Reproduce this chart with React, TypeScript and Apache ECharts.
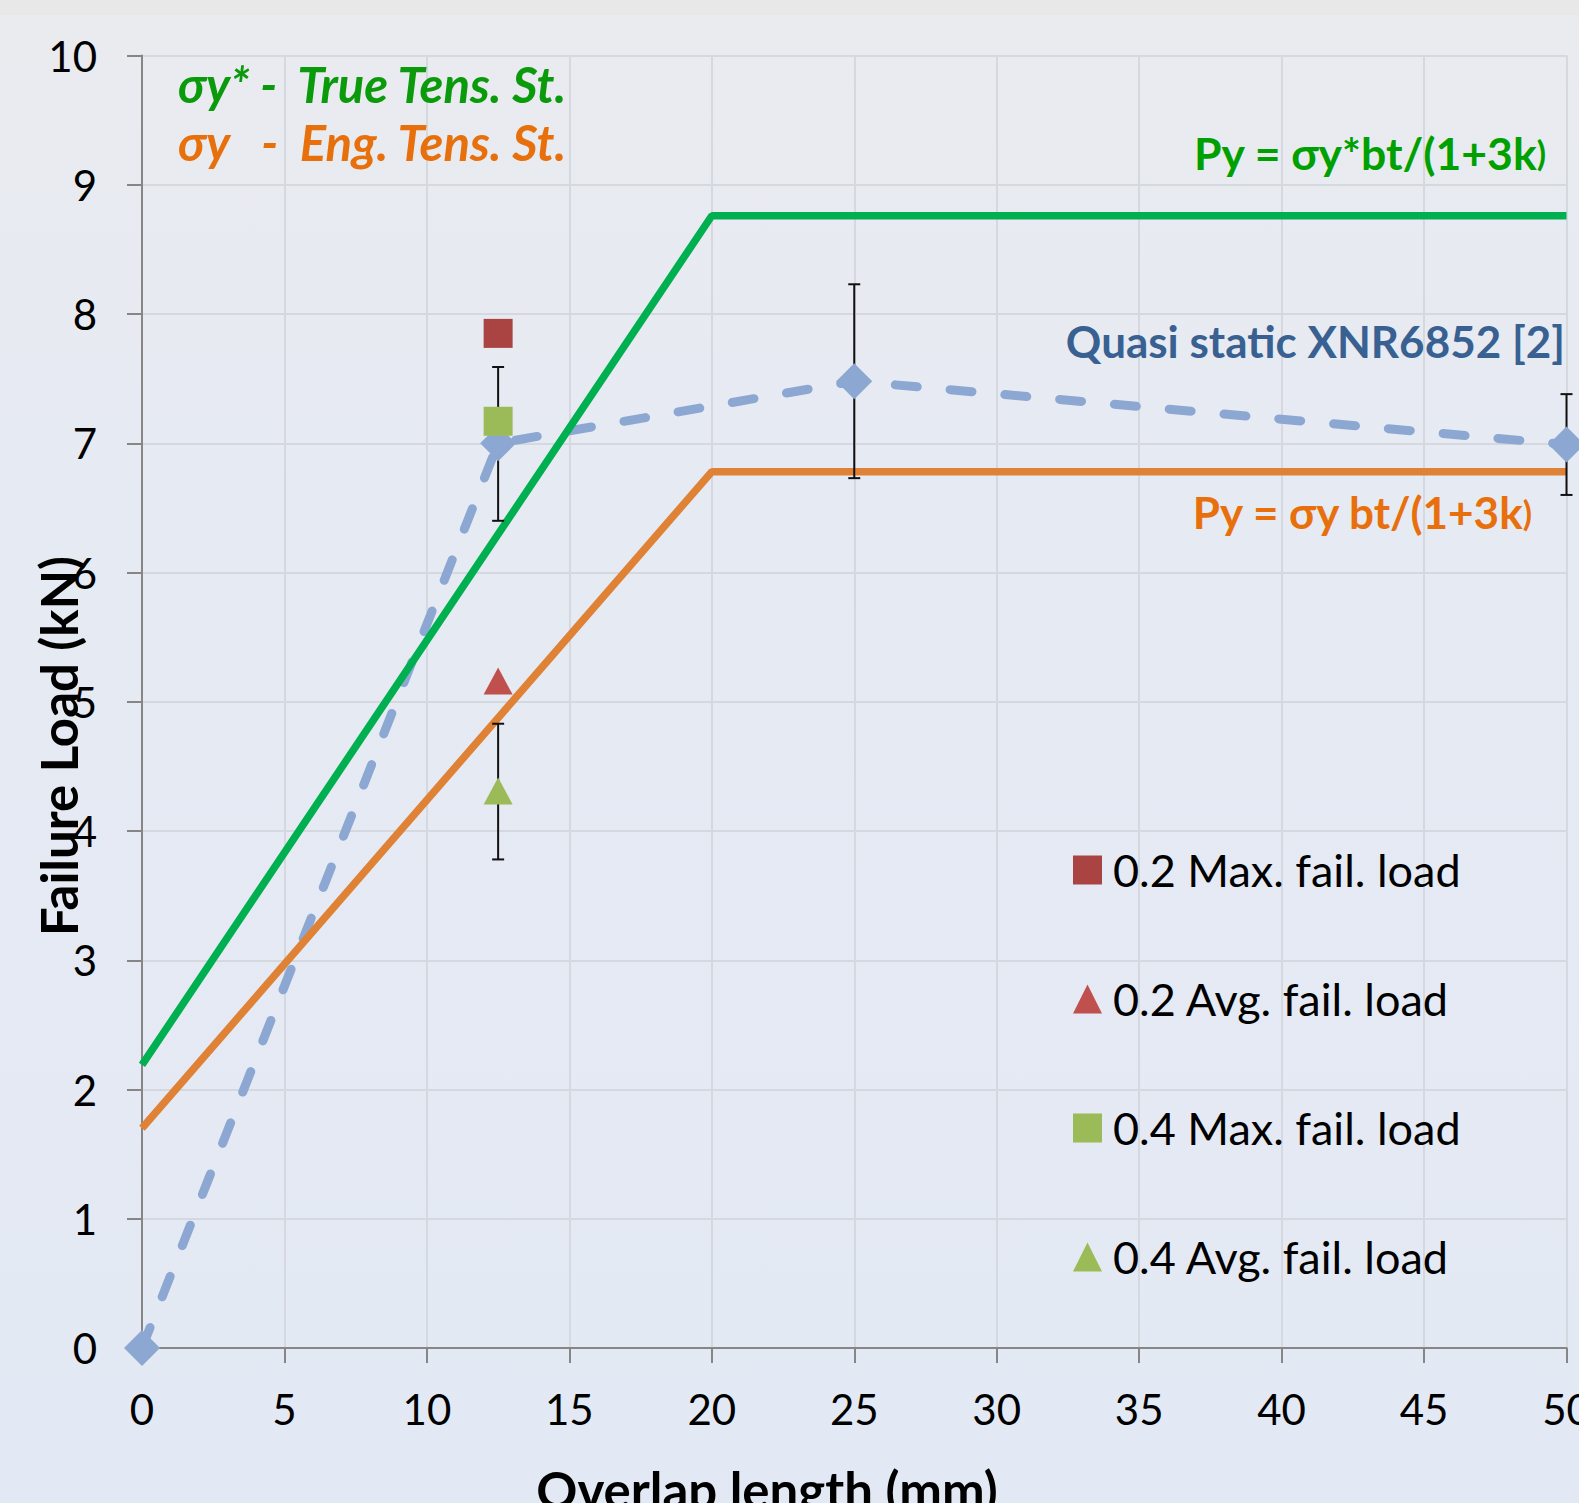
import React, { useEffect, useRef } from "react";
import * as echarts from "echarts";

// Theoretical yield load lines (x: overlap length mm, y: load kN)
const trueTensLine = [[0, 2.19], [20, 8.76], [50, 8.76]];
const engTensLine = [[0, 1.7], [20, 6.78], [50, 6.78]];
// Quasi static XNR6852 [2]
const quasiStatic = [[0, 0], [12.5, 7.0], [25, 7.48], [50, 6.99]];
// Error bars: [x, low, high]
const errorBars = [
  [12.5, 6.4, 7.59],
  [12.5, 3.78, 4.83],
  [25, 6.73, 8.23],
  [50, 6.6, 7.38],
];
const max02 = [[12.5, 7.85]];
const avg02 = [[12.5, 5.16]];
const max04 = [[12.5, 7.17]];
const avg04 = [[12.5, 4.31]];

const FONT = "Lato, 'Open Sans', sans-serif";

export default function App() {
  const ref = useRef<HTMLDivElement>(null);
  useEffect(() => {
    const chart = echarts.init(ref.current!, null, { renderer: "svg" });
    chart.setOption({
      animation: false,
      backgroundColor: new echarts.graphic.LinearGradient(0, 0, 0, 1, [
        { offset: 0, color: "#e8e8e8" },
        { offset: 0.0099, color: "#e8e8e8" },
        { offset: 0.01, color: "#e9ebef" },
        { offset: 0.35, color: "#e6eaf3" },
        { offset: 1, color: "#e3e9f4" },
      ]),
      grid: { left: 142, right: 12.5, top: 55.5, bottom: 155, containLabel: false, outerBoundsMode: "none" },
      xAxis: {
        type: "value",
        min: 0,
        max: 50,
        interval: 5,
        axisLine: { show: true, lineStyle: { color: "#868686", width: 2 } },
        axisTick: { show: true, length: 15, lineStyle: { color: "#868686", width: 2 } },
        axisLabel: { color: "#000", fontSize: 42, fontFamily: FONT, margin: 40, hideOverlap: false },
        splitLine: { show: true, lineStyle: { color: "#d5d8de", width: 2 } },
      },
      yAxis: {
        type: "value",
        min: 0,
        max: 10,
        interval: 1,
        axisLine: { show: true, lineStyle: { color: "#868686", width: 2 } },
        axisTick: { show: true, length: 15, lineStyle: { color: "#868686", width: 2 } },
        axisLabel: { color: "#000", fontSize: 42, fontFamily: FONT, margin: 45 },
        splitLine: { show: true, lineStyle: { color: "#d5d8de", width: 2 } },
      },
      legend: {
        orient: "vertical",
        left: 1073,
        top: 847.5,
        padding: 0,
        itemGap: 84,
        itemWidth: 29,
        itemHeight: 29,
        selectedMode: false,
        textStyle: { fontSize: 45, fontFamily: FONT, color: "#000", lineHeight: 45, padding: [0, 0, 0, 6] },
        data: ["0.2 Max. fail. load", "0.2 Avg. fail. load", "0.4 Max. fail. load", "0.4 Avg. fail. load"],
      },
      series: [
        {
          name: "Quasi static XNR6852 [2]",
          type: "line",
          data: quasiStatic,
          symbol: "none",
          lineStyle: { color: "#8ca8d2", width: 9, type: [22, 33], cap: "round" },
          z: 3,
        },
        {
          name: "True",
          type: "line",
          data: trueTensLine,
          symbol: "none",
          lineStyle: { color: "#00b050", width: 7.5 },
          z: 4,
        },
        {
          name: "Eng",
          type: "line",
          data: engTensLine,
          symbol: "none",
          lineStyle: { color: "#df8236", width: 7.5 },
          z: 4,
        },
        {
          name: "errors",
          type: "custom",
          clip: false,
          z: 5,
          data: errorBars,
          renderItem: (params: any, api: any) => {
            const x = api.value(0);
            const lo = api.coord([x, api.value(1)]);
            const hi = api.coord([x, api.value(2)]);
            const cw = 6;
            const style = { stroke: "#111", lineWidth: 2 };
            return {
              type: "group",
              children: [
                { type: "line", shape: { x1: lo[0], y1: lo[1], x2: hi[0], y2: hi[1] }, style },
                { type: "line", shape: { x1: lo[0] - cw, y1: lo[1], x2: lo[0] + cw, y2: lo[1] }, style },
                { type: "line", shape: { x1: hi[0] - cw, y1: hi[1], x2: hi[0] + cw, y2: hi[1] }, style },
              ],
            };
          },
        },
        {
          name: "Quasi static markers",
          type: "scatter",
          data: quasiStatic,
          symbol: "diamond",
          symbolSize: 36,
          clip: false,
          itemStyle: { color: "#8ca8d2", opacity: 1 },
          z: 6,
        },
        {
          name: "0.2 Max. fail. load",
          type: "scatter",
          data: max02,
          symbol: "rect",
          symbolSize: 29,
          itemStyle: { color: "#a94442", opacity: 1 },
          z: 6,
        },
        {
          name: "0.2 Avg. fail. load",
          type: "scatter",
          data: avg02,
          symbol: "triangle",
          symbolSize: [29, 27],
          itemStyle: { color: "#c0504d", opacity: 1 },
          z: 6,
        },
        {
          name: "0.4 Max. fail. load",
          type: "scatter",
          data: max04,
          symbol: "rect",
          symbolSize: 29,
          itemStyle: { color: "#9bbb59", opacity: 1 },
          z: 6,
        },
        {
          name: "0.4 Avg. fail. load",
          type: "scatter",
          data: avg04,
          symbol: "triangle",
          symbolSize: [29, 27],
          itemStyle: { color: "#9bbb59", opacity: 1 },
          z: 6,
        },
      ],
      graphic: [
        {
          type: "text",
          x: 178,
          y: 84,
          z: 10,
          style: { text: "σy* -  True Tens. St.", fill: "#0b9a0b", font: `italic bold 49px ${FONT}`, align: "left", verticalAlign: "middle" },
        },
        {
          type: "text",
          x: 178,
          y: 142,
          z: 10,
          style: { text: "σy   -  Eng. Tens. St.", fill: "#e8700c", font: `italic bold 49px ${FONT}`, align: "left", verticalAlign: "middle" },
        },
        {
          type: "text",
          x: 1546,
          y: 152,
          z: 10,
          style: {
            text: "{a|Py = σy*bt/(1+3k}{b|)}",
            align: "right",
            verticalAlign: "middle",
            rich: {
              a: { fill: "#00a000", font: `bold 44.5px ${FONT}` },
              b: { fill: "#00a000", font: `bold 34px ${FONT}` },
            },
          },
        },
        {
          type: "text",
          x: 1565,
          y: 341,
          z: 10,
          style: { text: "Quasi static XNR6852 [2]", fill: "#386192", font: `bold 44px ${FONT}`, align: "right", verticalAlign: "middle" },
        },
        {
          type: "text",
          x: 1532,
          y: 512,
          z: 10,
          style: {
            text: "{a|Py = σy bt/(1+3k}{b|)}",
            align: "right",
            verticalAlign: "middle",
            rich: {
              a: { fill: "#e8700c", font: `bold 44px ${FONT}` },
              b: { fill: "#e8700c", font: `bold 34px ${FONT}` },
            },
          },
        },
        {
          type: "text",
          x: 58,
          y: 746,
          rotation: Math.PI / 2,
          z: 10,
          style: { text: "Failure Load (kN)", fill: "#000", font: `bold 51px ${FONT}`, align: "center", verticalAlign: "middle" },
        },
        {
          type: "text",
          x: 767,
          y: 1489,
          z: 10,
          style: { text: "Overlap length (mm)", fill: "#000", font: `bold 51px ${FONT}`, align: "center", verticalAlign: "middle" },
        },
      ],
    });
    return () => chart.dispose();
  }, []);
  return <div ref={ref} style={{ position: "fixed", left: 0, top: 0, width: 1579, height: 1503 }} />;
}
